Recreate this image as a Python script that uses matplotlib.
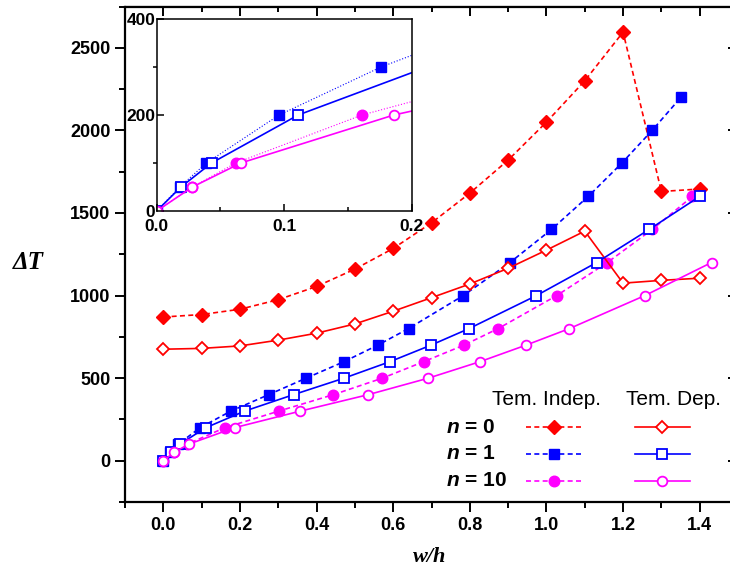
import matplotlib.pyplot as plt
from matplotlib.ticker import MultipleLocator

plt.rcParams['font.family'] = ['Liberation Sans', 'DejaVu Sans']
plt.rcParams['font.weight'] = 'bold'
plt.rcParams['mathtext.fontset'] = 'custom'
plt.rcParams['mathtext.it'] = 'Liberation Sans:italic:bold'
plt.rcParams['mathtext.rm'] = 'Liberation Sans:bold'

# n = 0 : evenly spaced w/h
wh_n0 = [0.0, 0.1, 0.2, 0.3, 0.4, 0.5, 0.6, 0.7, 0.8, 0.9, 1.0, 1.1, 1.2, 1.3, 1.4]
dT_n0_indep = [870, 885, 917, 975, 1055, 1160, 1285, 1440, 1620, 1820, 2050, 2300, 2595, 1630, 1645]
dT_n0_dep = [675, 680, 695, 730, 772, 828, 905, 987, 1070, 1165, 1275, 1390, 1075, 1092, 1105]

# n = 1
wh_n1_indep = [0, 0.018, 0.039, 0.096, 0.176, 0.275, 0.373, 0.472, 0.56, 0.64, 0.783, 0.905,
               1.013, 1.109, 1.196, 1.276, 1.351]
dT_n1_indep = [0, 50, 100, 200, 300, 400, 500, 600, 700, 800, 1000, 1200, 1400, 1600, 1800, 2000, 2200]
wh_n1_dep = [0, 0.019, 0.043, 0.111, 0.212, 0.34, 0.472, 0.592, 0.699, 0.798, 0.974, 1.131, 1.268, 1.40]
dT_n1_dep = [0, 50, 100, 200, 300, 400, 500, 600, 700, 800, 1000, 1200, 1400, 1600]

# n = 10
wh_n10_indep = [0, 0.028, 0.062, 0.161, 0.301, 0.444, 0.572, 0.68, 0.785, 0.874, 1.027, 1.159, 1.276, 1.381]
dT_n10_indep = [0, 50, 100, 200, 300, 400, 500, 600, 700, 800, 1000, 1200, 1400, 1600]
wh_n10_dep = [0, 0.028, 0.066, 0.186, 0.357, 0.535, 0.692, 0.827, 0.947, 1.06, 1.257, 1.431]
dT_n10_dep = [0, 50, 100, 200, 300, 400, 500, 600, 700, 800, 1000, 1200]

n_labels = ['$n$ = 0', '$n$ = 1', '$n$ = 10']
headers = ['Tem. Indep.', 'Tem. Dep.']

red, blue, mag = '#ff0000', '#0000ff', '#ff00ff'

series = [
    (wh_n0, dT_n0_indep, red, 'D', True),
    (wh_n1_indep, dT_n1_indep, blue, 's', True),
    (wh_n10_indep, dT_n10_indep, mag, 'o', True),
    (wh_n0, dT_n0_dep, red, 'D', False),
    (wh_n1_dep, dT_n1_dep, blue, 's', False),
    (wh_n10_dep, dT_n10_dep, mag, 'o', False),
]
msize = {'D': 6.8, 's': 7.2, 'o': 7.6}


def draw(axis, inset=False):
    lines = []
    for x, y, c, m, filled in series:
        if filled:
            ls = ':' if inset else (0, (3, 2))
            lw = 0.8 if inset else 1.2
            ln, = axis.plot(x, y, color=c, ls=ls, lw=lw, marker=m, ms=msize[m],
                            mfc=c, mec=c, mew=1.0)
        else:
            ln, = axis.plot(x, y, color=c, ls='-', lw=1.2, marker=m, ms=msize[m] - 0.6,
                            mfc='white', mec=c, mew=1.3)
        lines.append(ln)
    return lines


fig = plt.figure(figsize=(7.3, 5.75), dpi=100)
ax = fig.add_axes([125 / 730, 73 / 575, 613 / 730, 495.5 / 575])
handles = draw(ax)

ax.set_xlim(-0.1, 1.5)
ax.set_ylim(-250, 2750)
ax.xaxis.set_major_locator(MultipleLocator(0.2))
ax.xaxis.set_minor_locator(MultipleLocator(0.1))
ax.yaxis.set_major_locator(MultipleLocator(500))
ax.yaxis.set_minor_locator(MultipleLocator(250))
for s in ax.spines.values():
    s.set_linewidth(1.6)
ax.tick_params(which='major', direction='out', length=7, width=1.4, labelsize=13)
ax.tick_params(which='minor', direction='out', length=4, width=1.4)

top = ax.secondary_xaxis('top')
top.xaxis.set_major_locator(MultipleLocator(0.2))
top.xaxis.set_minor_locator(MultipleLocator(0.1))
top.tick_params(which='major', direction='in', length=7, width=1.4, labeltop=False)
top.tick_params(which='minor', direction='in', length=4, width=1.4)
right = ax.secondary_yaxis('right')
right.yaxis.set_major_locator(MultipleLocator(500))
right.yaxis.set_minor_locator(MultipleLocator(250))
right.tick_params(which='major', direction='in', length=7, width=1.4, labelright=False)
right.tick_params(which='minor', direction='in', length=4, width=1.4)

ax.set_xlabel('w/h', family='Liberation Serif', style='italic', weight='bold', fontsize=16)
ax.xaxis.set_label_coords(0.4976, -0.09)
ax.set_ylabel('ΔT', family='Liberation Serif', style='italic', weight='bold', fontsize=18,
              rotation=0, va='center', ha='center')
ax.yaxis.set_label_coords(-0.158, 0.484)

# inset
axi = fig.add_axes([156.7 / 730, 1 - 211 / 575, 255 / 730, 192 / 575])
draw(axi, inset=True)
axi.set_xlim(0, 0.2)
axi.set_ylim(0, 400)
axi.xaxis.set_major_locator(MultipleLocator(0.1))
axi.xaxis.set_minor_locator(MultipleLocator(0.05))
axi.yaxis.set_major_locator(MultipleLocator(200))
axi.yaxis.set_minor_locator(MultipleLocator(100))
for s in axi.spines.values():
    s.set_linewidth(1.1)
axi.tick_params(which='major', direction='in', length=5, width=1.1, labelsize=12.5)
axi.tick_params(axis='y', which='major', pad=1)
axi.tick_params(axis='x', which='major', pad=6)
axi.tick_params(which='minor', direction='in', length=3, width=1.1)
axi.tick_params(axis='y', which='minor', direction='out', length=3)

# legend: sample lines from the library, row / column texts aligned to them
leg = ax.legend(handles, [''] * 6, ncol=2, loc='center',
                bbox_to_anchor=(608 / 730, 1 - 456 / 575), bbox_transform=fig.transFigure,
                frameon=False, handlelength=2.8, handletextpad=0, columnspacing=2.8,
                labelspacing=0.48, numpoints=1, fontsize=14)
fig.canvas.draw()
rend = fig.canvas.get_renderer()
inv = fig.transFigure.inverted()
row_y = []
for h in leg.legend_handles[:3]:
    bb = h.get_window_extent(rend)
    row_y.append((bb.y0 + bb.y1) / 2)
for yy, lab in zip(row_y, n_labels):
    fx, fy = inv.transform((446, yy))
    fig.text(fx, fy, lab, fontsize=15, va='center', ha='left')
for xx, lab in zip([547, 673.5], headers):
    fx, fy = inv.transform((xx, row_y[0] + 27.5))
    fig.text(fx, fy, lab, fontsize=15, weight='normal', va='center', ha='center')

fig.savefig('out.png', dpi=100)
